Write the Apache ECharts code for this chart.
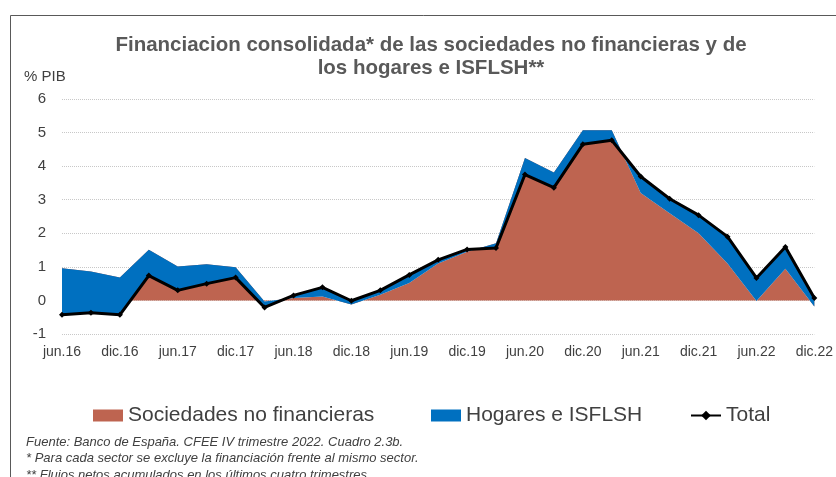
<!DOCTYPE html>
<html>
<head>
<meta charset="utf-8">
<script src="https://cdn.jsdelivr.net/npm/echarts@6/dist/echarts.min.js"></script>
<style>
    html, body { margin: 0; padding: 0; background: #fff; }
    #chart { width: 836px; height: 477px; }
</style>
</head>
<body>
<div id="chart"></div>
<script>
// trimestres, de jun.16 a dic.22
var categorias = ['jun.16', 'sep.16', 'dic.16', 'mar.17', 'jun.17', 'sep.17', 'dic.17', 'mar.18', 'jun.18',
    'sep.18', 'dic.18', 'mar.19', 'jun.19', 'sep.19', 'dic.19', 'mar.20', 'jun.20', 'sep.20', 'dic.20',
    'mar.21', 'jun.21', 'sep.21', 'dic.21', 'mar.22', 'jun.22', 'sep.22', 'dic.22'];

var sociedades = [0.96, 0.86, 0.68, 1.51, 1.01, 1.08, 0.99, -0.03, 0.07, 0.12, -0.12, 0.17, 0.52, 1.10,
    1.45, 1.70, 4.24, 3.81, 5.07, 5.07, 3.20, 2.60, 2.00, 1.10, -0.02, 0.94, -0.18];

var hogares = [-1.39, -1.23, -1.11, -0.77, -0.71, -0.58, -0.31, -0.18, 0.08, 0.27, 0.11, 0.13, 0.24, 0.11,
    0.07, -0.14, -0.49, -0.45, -0.42, -0.30, 0.49, 0.43, 0.54, 0.80, 0.69, 0.65, 0.25];

var total = [-0.43, -0.37, -0.43, 0.74, 0.30, 0.50, 0.68, -0.21, 0.15, 0.39, -0.01, 0.30, 0.76, 1.21,
    1.52, 1.56, 3.75, 3.36, 4.65, 4.77, 3.69, 3.03, 2.54, 1.90, 0.67, 1.59, 0.07];

var notas = [
    'Fuente: Banco de España. CFEE IV trimestre 2022. Cuadro 2.3b.',
    '* Para cada sector se excluye la financiación frente al mismo sector.',
    '** Flujos netos acumulados en los últimos cuatro trimestres'
];

var fuente = 'Liberation Sans, Arial, sans-serif';
var gris = '#404040';

// una leyenda por serie, para colocar cada una donde esta en el original
function leyenda(nombre, izq, icono) {
    return {
        left: izq,
        top: 400,
        itemWidth: 30,
        itemHeight: 12,
        textStyle: {fontSize: 21, color: gris, fontFamily: fuente},
        data: [icono ? {name: nombre, icon: icono} : nombre]
    };
}

var chart = echarts.init(document.getElementById('chart'));
chart.setOption({
    animation: false,
    textStyle: {fontFamily: fuente},
    title: [
        {
            text: 'Financiacion consolidada* de las sociedades no financieras y de\nlos hogares e ISFLSH**',
            left: 426,
            top: 29,
            textAlign: 'center',
            textStyle: {fontSize: 20.5, fontWeight: 'bold', color: '#595959', lineHeight: 23, fontFamily: fuente}
        },
        {
            text: '% PIB',
            left: 19,
            top: 64,
            textStyle: {fontSize: 15, fontWeight: 'normal', color: gris, fontFamily: fuente}
        },
        {
            text: notas.join('\n'),
            left: 21,
            top: 429,
            textStyle: {fontSize: 13, fontWeight: 'normal', fontStyle: 'italic', color: gris,
                lineHeight: 16.5, fontFamily: fuente}
        }
    ],
    legend: [
        leyenda('Sociedades no financieras', 88, 'rect'),
        leyenda('Hogares e ISFLSH', 426, 'rect'),
        leyenda('Total', 685)
    ],
    grid: {left: 62, right: 19, top: 99, bottom: 143},
    xAxis: {
        type: 'category',
        data: categorias,
        boundaryGap: false,
        axisLine: {show: false, onZero: false},
        axisTick: {show: false},
        axisLabel: {interval: 1, fontSize: 14, color: gris, margin: 11}
    },
    yAxis: {
        type: 'value',
        min: -1,
        max: 6,
        interval: 1,
        axisLine: {show: false},
        axisTick: {show: false},
        axisLabel: {fontSize: 15, color: gris, margin: 16},
        splitLine: {lineStyle: {color: '#c8c8c8', type: [1, 1], width: 1}}
    },
    graphic: [
        {type: 'line', shape: {x1: 10.5, y1: 15.5, x2: 836, y2: 15.5}, style: {stroke: '#595959', lineWidth: 1}},
        {type: 'line', shape: {x1: 10.5, y1: 15.5, x2: 10.5, y2: 477}, style: {stroke: '#595959', lineWidth: 1}}
    ],
    series: [
        {
            name: 'Sociedades no financieras',
            type: 'line',
            stack: 'sectores',
            stackStrategy: 'all',
            data: sociedades,
            symbol: 'none',
            lineStyle: {width: 0},
            itemStyle: {color: '#BE6450'},
            areaStyle: {color: '#BE6450', opacity: 1}
        },
        {
            name: 'Hogares e ISFLSH',
            type: 'line',
            stack: 'sectores',
            stackStrategy: 'all',
            data: hogares,
            symbol: 'none',
            lineStyle: {width: 0},
            itemStyle: {color: '#0070C0'},
            areaStyle: {color: '#0070C0', opacity: 1}
        },
        {
            name: 'Total',
            type: 'line',
            data: total,
            symbol: 'diamond',
            symbolSize: 6,
            lineStyle: {color: '#000', width: 3},
            itemStyle: {color: '#000'},
            z: 5
        }
    ]
});
</script>
</body>
</html>
